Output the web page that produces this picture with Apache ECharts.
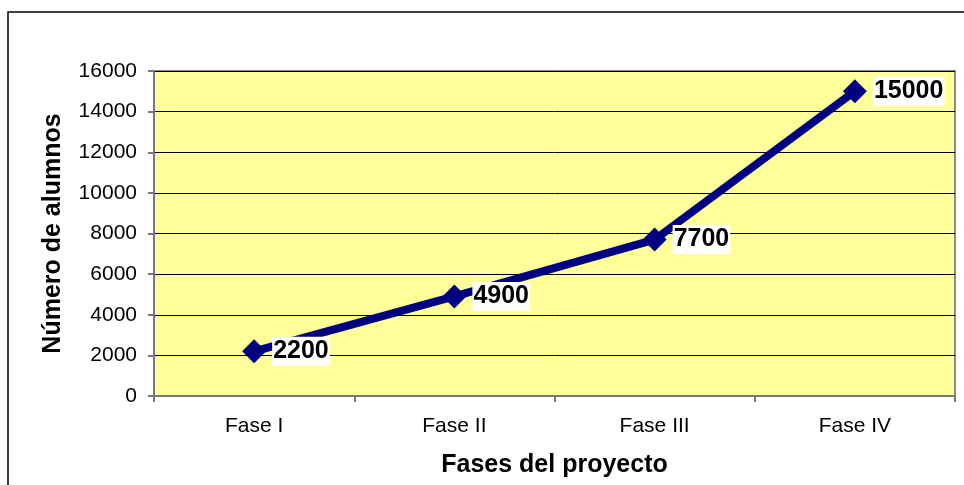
<!DOCTYPE html>
<html>
<head>
<meta charset="utf-8">
<script src="https://cdn.jsdelivr.net/npm/echarts@6/dist/echarts.min.js"></script>
<style>
html,body{margin:0;padding:0;background:#fff;}
#chart{width:964px;height:485px;}
</style>
</head>
<body>
<div id="chart"></div>
<script>
const categories = ['Fase I', 'Fase II', 'Fase III', 'Fase IV'];
const alumnos = [2200, 4900, 7700, 15000];
const yMin = 0, yMax = 16000, yStep = 2000;
const xName = 'Fases del proyecto';
const yName = 'Número de alumnos';

const chart = echarts.init(document.getElementById('chart'), null, {renderer: 'canvas'});
const font = '"Liberation Sans", Arial, sans-serif';
chart.setOption({
  backgroundColor: '#ffffff',
  animation: false,
  graphic: [{
    type: 'rect', z: -10,
    shape: {x: 8, y: 12, width: 1000, height: 600},
    style: {fill: 'none', stroke: '#000', lineWidth: 1.5}
  }],
  grid: {left: 154, right: 9, top: 71, bottom: 89, show: true,
         backgroundColor: '#FFFF99', borderColor: '#888', borderWidth: 2},
  xAxis: {
    type: 'category', data: categories, boundaryGap: true,
    name: xName, nameLocation: 'middle', nameGap: 57,
    nameTextStyle: {fontFamily: font, fontSize: 25, fontWeight: 'bold', color: '#000'},
    axisLine: {lineStyle: {color: '#777', width: 2}},
    axisTick: {show: true, length: 6, inside: false, lineStyle: {color: '#777', width: 2}},
    axisLabel: {fontFamily: font, fontSize: 21, color: '#000', margin: 20},
    splitLine: {show: false}
  },
  yAxis: {
    type: 'value', min: yMin, max: yMax, interval: yStep,
    name: yName, nameLocation: 'middle', nameGap: 88, nameRotate: 90,
    nameTextStyle: {fontFamily: font, fontSize: 25, fontWeight: 'bold', color: '#000'},
    axisLine: {show: true, lineStyle: {color: '#777', width: 2}},
    axisTick: {show: true, length: 6, lineStyle: {color: '#777', width: 2}},
    axisLabel: {fontFamily: font, fontSize: 21, color: '#000', margin: 17,
                formatter: v => String(v)},
    splitLine: {show: true, lineStyle: {color: '#000', width: 1}}
  },
  series: [{
    type: 'line', data: alumnos,
    lineStyle: {color: '#000080', width: 8},
    itemStyle: {color: '#000080'},
    symbol: 'diamond', symbolSize: 24,
    label: {
      show: true, position: 'right', distance: 6,
      fontFamily: font, fontSize: 25, fontWeight: 'bold', color: '#000',
      backgroundColor: '#fff', padding: [3, 1, 1, 1]
    }
  }]
});
</script>
</body>
</html>
